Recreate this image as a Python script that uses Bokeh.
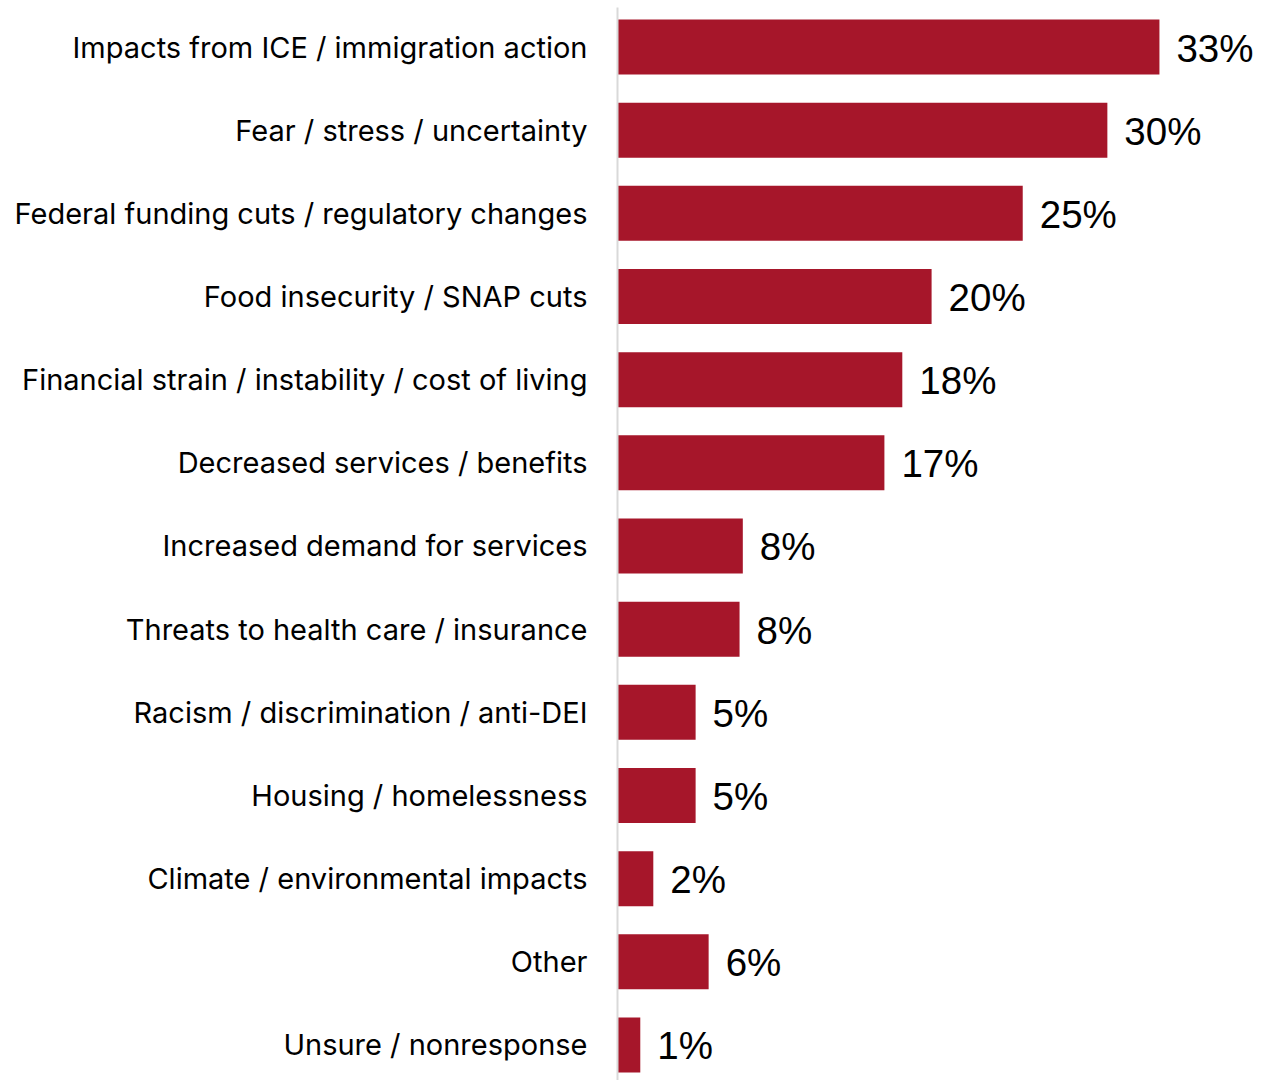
from bokeh.plotting import figure
from bokeh.models import Range1d, FixedTicker, ColumnDataSource
from bokeh.core.properties import value
from bokeh.embed import file_html
from bokeh.resources import INLINE

categories = [
    "Impacts from ICE / immigration action",
    "Fear / stress / uncertainty",
    "Federal funding cuts / regulatory changes",
    "Food insecurity / SNAP cuts",
    "Financial strain / instability / cost of living",
    "Decreased services / benefits",
    "Increased demand for services",
    "Threats to health care / insurance",
    "Racism / discrimination / anti-DEI",
    "Housing / homelessness",
    "Climate / environmental impacts",
    "Other",
    "Unsure / nonresponse",
]
values = [33.3, 30.1, 24.9, 19.3, 17.5, 16.4, 7.7, 7.5, 4.8, 4.8, 2.2, 5.6, 1.4]
value_labels = ["33%", "30%", "25%", "20%", "18%", "17%", "8%", "8%", "5%", "5%", "2%", "6%", "1%"]

idx = list(range(len(categories)))
src = ColumnDataSource(dict(y=idx, v=values, lab=value_labels))

BAR = "#A6162A"

p = figure(
    width=1274, height=1080,
    x_range=Range1d(0, 40.37),
    y_range=Range1d(12.427, -0.475),
    output_backend="svg", toolbar_location=None,
    x_axis_location=None,
    min_border_left=617, min_border_right=0, min_border_top=7, min_border_bottom=0,
)
p.outline_line_color = None
p.xgrid.visible = False
p.ygrid.visible = False
p.background_fill_color = "white"
p.border_fill_color = "white"

p.hbar(y="y", right="v", left=0, height=0.661, source=src, fill_color=BAR, line_color=None)
p.text(x="v", y="y", text="lab", source=src, x_offset=17, y_offset=1,
       text_baseline="middle", text_align="left",
       text_font=value("Liberation Sans"), text_font_size="38.5px", text_color="black")

ax = p.yaxis[0]
ax.ticker = FixedTicker(ticks=idx)
ax.major_label_overrides = {i: c for i, c in zip(idx, categories)}
ax.major_tick_line_color = None
ax.minor_tick_line_color = None
ax.major_tick_out = 0
ax.major_tick_in = 0
ax.axis_line_color = "#D9D9D9"
ax.axis_line_width = 2
ax.major_label_standoff = 30
ax.major_label_text_font = "Inter"
ax.major_label_text_font_size = "29px"
ax.major_label_text_color = "black"

open("out.html", "w").write(file_html(p, INLINE))
